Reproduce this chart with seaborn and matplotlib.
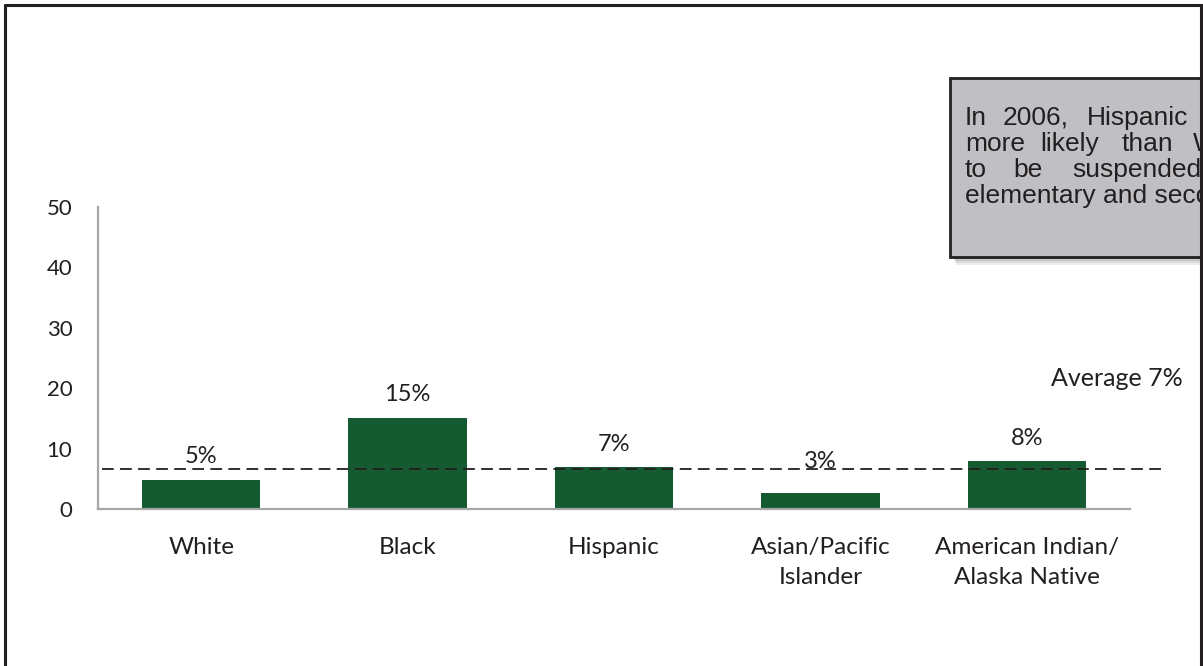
import matplotlib
matplotlib.use("Agg")
import matplotlib.pyplot as plt
import seaborn as sns
import pandas as pd
from matplotlib.patches import Rectangle
from matplotlib.lines import Line2D

categories = ["White", "Black", "Hispanic", "Asian/Pacific\nIslander", "American Indian/\nAlaska Native"]
values = [4.8, 15.1, 6.9, 2.6, 7.9]
value_labels = ["5%", "15%", "7%", "3%", "8%"]
average = 6.6
average_label = "Average 7%"
yticks = [0, 10, 20, 30, 40, 50]
callout_lines = [
    ["In", "2006,", "Hispanic", "students"],
    ["more", "likely", "than", "White"],
    ["to", "be", "suspended", "from"],
    ["elementary and secondary school."],
]

sns.set_style("white")
plt.rcParams["font.family"] = ["Lato", "DejaVu Sans"]

W, H = 1203, 666
fig = plt.figure(figsize=(W / 100, H / 100), dpi=100)
ax = fig.add_axes([98 / W, 1 - 509 / H, (1130 - 98) / W, (509 - 207) / H])

df = pd.DataFrame({"cat": categories, "val": values})
green = "#165a32"
sns.barplot(data=df, x="cat", y="val", color=green, width=0.573, ax=ax,
            saturation=1, edgecolor="none")

ax.set_xlim(-0.5, 4.5)
ax.set_ylim(0, 50)
ax.set_yticks(yticks)
ax.set_xlabel("")
ax.set_ylabel("")
txtc = "#231f20"
ax.tick_params(axis="y", length=0, pad=18.5, labelsize=16, labelcolor=txtc)
ax.tick_params(axis="x", length=0, pad=20.5, labelsize=17.5, labelcolor=txtc)
for lab in ax.get_xticklabels():
    lab.set_linespacing(1.52)
for s in ["top", "right"]:
    ax.spines[s].set_visible(False)
for s in ["left", "bottom"]:
    ax.spines[s].set_color("#a6a6a6")
    ax.spines[s].set_linewidth(1.6)

# value labels
offsets = [12, 12, 12, 18, 12]
for i, (v, lab) in enumerate(zip(values, value_labels)):
    ax.annotate(lab, (i, v), xytext=(0, offsets[i]), textcoords="offset points",
                ha="center", va="baseline", fontsize=17, color=txtc)

# average dashed line
ax.plot([-0.48, 4.66], [average, average], ls=(0, (6.5, 3.5)), color="#231f20",
        lw=1.3, clip_on=False, zorder=5)
fig.text(1183 / W, 1 - 386 / H, average_label, ha="right", va="baseline",
         fontsize=18, color=txtc)

# frame
fc = "#231f20"
fig.add_artist(Line2D([5 / W, 5 / W], [0, 1 - 5 / H], color=fc, lw=2.2))
fig.add_artist(Line2D([5 / W, 1], [1 - 5 / H, 1 - 5 / H], color=fc, lw=2.2))
fig.add_artist(Line2D([1201 / W, 1201 / W], [0, 1 - 5 / H], color=fc, lw=2.2))

# callout box with shadow
bx0, by0, bx1, by1 = 950, 78, 1215, 257
for k, a in enumerate([0.10, 0.12, 0.15, 0.2]):
    d = 8 - k * 2
    fig.add_artist(Rectangle(((bx0 + 2 + d / 2) / W, 1 - (by1 + d) / H),
                             (bx1 - bx0) / W, (by1 - by0) / H,
                             facecolor="#555555", alpha=a, edgecolor="none"))
fig.add_artist(Rectangle((bx0 / W, 1 - by1 / H), (bx1 - bx0) / W, (by1 - by0) / H,
                         facecolor="#c0c0c4", edgecolor="#231f20", lw=2))

word_x = [
    [965, 1003, 1087, 1215],
    [965, 1040, 1122, 1193],
    [965, 1013, 1072, 1215],
    [965],
]
baselines = [125, 151, 177, 203]
for words, xs, yb in zip(callout_lines, word_x, baselines):
    for w, x in zip(words, xs):
        fig.text(x / W, 1 - yb / H, w, ha="left", va="baseline", fontsize=19,
                 color=txtc, family=["Liberation Sans", "DejaVu Sans"])

fig.savefig("out.png", dpi=100)
